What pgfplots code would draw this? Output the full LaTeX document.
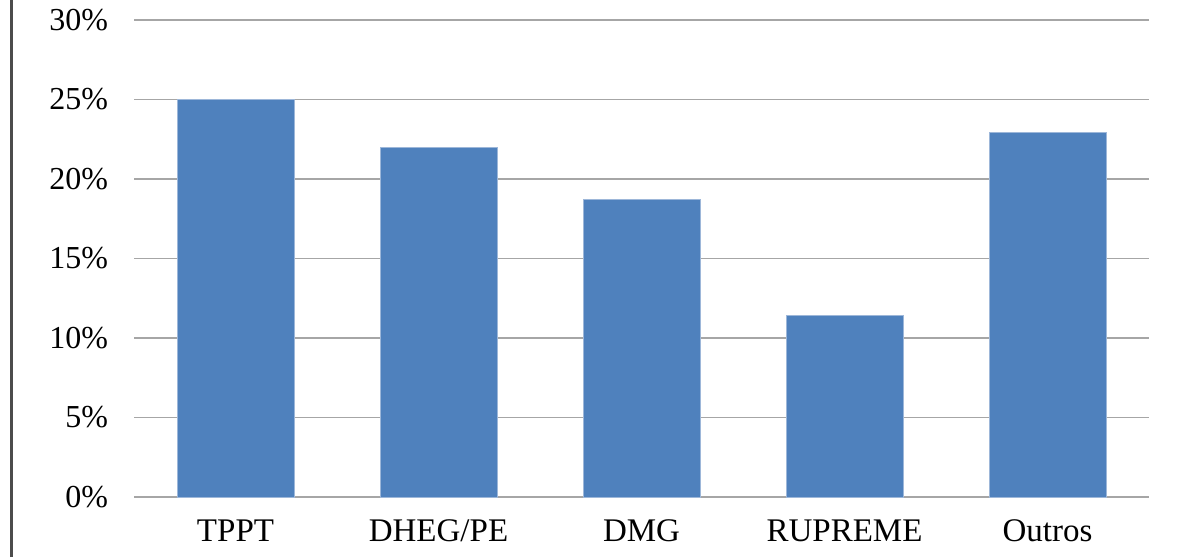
\documentclass[border=0pt]{standalone}
\usepackage{fontspec}
\setmainfont{Liberation Serif}
\usepackage{pgfplots}
\pgfplotsset{compat=1.18}
\definecolor{barblue}{HTML}{4F81BD}
\definecolor{baredge}{HTML}{9DB7D9}
\definecolor{gridgray}{HTML}{A6A6A6}
\begin{document}
\begin{tikzpicture}
\useasboundingbox (0,0) rectangle (594pt,278.5pt);
\draw[line width=1.5pt, color=black!70] (5.5pt,0) -- (5.5pt,278.5pt);
\begin{axis}[
  at={(67pt,30pt)}, anchor=south west,
  scale only axis, width=507.5pt, height=238.5pt,
  xmin=-0.5, xmax=4.5, ymin=0, ymax=30,
  xtick=data, xticklabels={TPPT,DHEG/PE,DMG,RUPREME,Outros},
  ytick={0,5,10,15,20,25,30},
  yticklabel={\pgfmathprintnumber{\tick}\%},
  /pgf/number format/assume math mode=true,
  ticklabel style={font=\fontsize{16}{19}\selectfont},
  xticklabel style={font=\fontsize{16.5}{20}\selectfont, yshift=-8pt},
  yticklabel style={xshift=-9.5pt},
  major tick length=0pt,
  ymajorgrids, grid style={gridgray, line width=0.7pt},
  axis x line*=bottom, axis y line*=left,
  axis line style={-},
  x axis line style={gridgray, line width=0.7pt},
  y axis line style={draw=none},
  ybar, bar width=58.5pt,
]
\addplot[fill=barblue, draw=baredge, line width=0.5pt] coordinates {(0,25) (1,22) (2,18.7) (3,11.4) (4,22.9)};
\end{axis}
\end{tikzpicture}
\end{document}
